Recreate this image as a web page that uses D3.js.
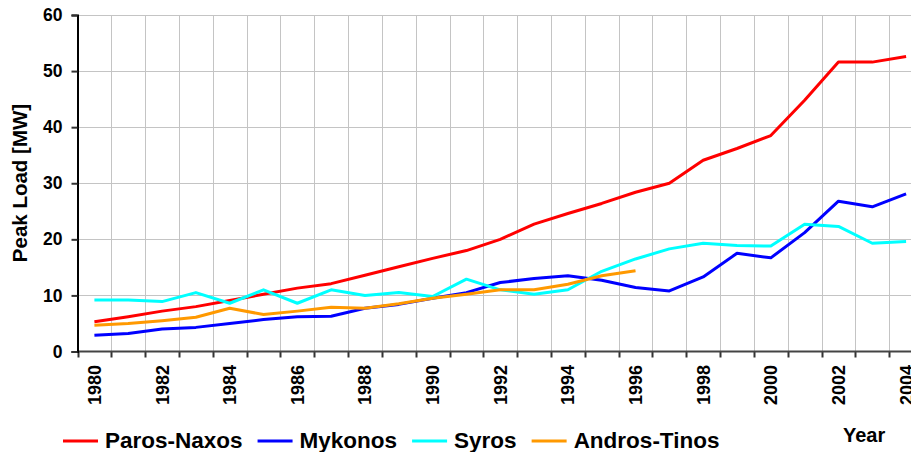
<!DOCTYPE html>
<meta charset="utf-8">
<style>
body { margin: 0; }
svg { font-family: Arial, "Liberation Sans", sans-serif; font-weight: bold; }
.grid line { stroke: #c4c4c4; stroke-width: 1; }
.line { fill: none; stroke-width: 3; stroke-linejoin: round; }
</style>
<svg width="911" height="452"></svg>
<script src="https://d3js.org/d3.v7.min.js"></script>
<script>

var years = d3.range(1980, 2005);
var yTicks = [0, 10, 20, 30, 40, 50, 60];

var parosNaxos = [5.3, 6.2, 7.2, 8.0, 9.1, 10.2, 11.3, 12.1, 13.6, 15.1, 16.6, 18.0, 20.0, 22.7, 24.6, 26.4,
                  28.4, 30.0, 34.1, 36.2, 38.5, 44.8, 51.6, 51.6, 52.6];
var mykonos = [2.9, 3.2, 4.0, 4.3, 5.0, 5.7, 6.2, 6.3, 7.7, 8.4, 9.5, 10.5, 12.3, 13.0, 13.5, 12.7,
               11.4, 10.8, 13.3, 17.5, 16.7, 21.2, 26.8, 25.8, 28.1];
var syros = [9.2, 9.2, 8.9, 10.5, 8.6, 11.0, 8.6, 11.0, 10.0, 10.5, 9.8, 12.9, 11.0, 10.2, 11.0, 14.3,
             16.5, 18.3, 19.3, 18.9, 18.8, 22.7, 22.3, 19.3, 19.6];
var androsTinos = [4.7, 5.0, 5.5, 6.1, 7.7, 6.6, 7.2, 7.9, 7.7, 8.5, 9.5, 10.2, 11.0, 11.0, 12.0, 13.5, 14.4];

var seriesNames = ["Paros-Naxos", "Mykonos", "Syros", "Andros-Tinos"];
var seriesColors = ["#ff0000", "#0000ff", "#00ffff", "#ff9900"];
var seriesValues = [parosNaxos, mykonos, syros, androsTinos];

var svg = d3.select("svg"),
    plotLeft = 77.5, plotTop = 15, plotBottom = 351.5,
    step = 33.82,
    plotRight = plotLeft + step * years.length;

var x = d3.scaleBand().domain(years).range([plotLeft, plotRight]).padding(0);
var y = d3.scaleLinear().domain([0, 60]).range([plotBottom, plotTop]);

// grid
var grid = svg.append("g").attr("class", "grid");
grid.selectAll(".h")
  .data(yTicks.slice(1))
  .enter().append("line")
    .attr("x1", plotLeft).attr("x2", 911)
    .attr("y1", function(d) { return Math.round(y(d)) + 0.5; })
    .attr("y2", function(d) { return Math.round(y(d)) + 0.5; });
grid.selectAll(".v")
  .data(years.slice(1))
  .enter().append("line")
    .attr("x1", function(d) { return Math.round(x(d)) + 0.5; })
    .attr("x2", function(d) { return Math.round(x(d)) + 0.5; })
    .attr("y1", plotTop).attr("y2", plotBottom);

// x axis
var xa = svg.append("g");
xa.selectAll(".tick")
  .data(years)
  .enter().append("line")
    .attr("x1", function(d) { return Math.round(x(d)) + 0.5; })
    .attr("x2", function(d) { return Math.round(x(d)) + 0.5; })
    .attr("y1", plotBottom).attr("y2", plotBottom + 6)
    .attr("stroke", "#333").attr("stroke-width", 2);
xa.append("line")
    .attr("x1", plotLeft).attr("x2", 911)
    .attr("y1", plotBottom).attr("y2", plotBottom)
    .attr("stroke", "#444").attr("stroke-width", 2);
xa.selectAll(".lab")
  .data(years.filter(function(d) { return d % 2 === 0; }))
  .enter().append("text")
    .attr("transform", function(d) { return "translate(" + (x(d) + x.bandwidth() / 2) + ",365) rotate(-90)"; })
    .attr("text-anchor", "end")
    .attr("dy", "0.36em")
    .style("font-size", "18px")
    .text(function(d) { return d; });

// y axis
var ya = svg.append("g")
    .attr("transform", "translate(" + plotLeft + ",0)")
    .call(d3.axisLeft(y).tickValues(yTicks).tickSize(6).tickPadding(9));
ya.select(".domain").attr("stroke", "#000").attr("stroke-width", 2);
ya.selectAll(".tick line").attr("stroke", "#333").attr("stroke-width", 2);
ya.selectAll(".tick text").style("font-size", "17.5px").attr("fill", "#000");
ya.selectAll("text").style("font-family", "Arial, 'Liberation Sans', sans-serif").style("font-weight", "bold");

svg.append("text")
    .attr("transform", "translate(27,183) rotate(-90)")
    .attr("text-anchor", "middle")
    .style("font-size", "20.5px")
    .text("Peak Load [MW]");

// lines
var line = d3.line()
    .x(function(d, i) { return x(years[i]) + x.bandwidth() / 2; })
    .y(function(d) { return y(d); });

svg.selectAll(".line")
  .data(seriesValues)
  .enter().append("path")
    .attr("class", "line")
    .attr("stroke", function(d, i) { return seriesColors[i]; })
    .attr("d", line);

// legend
var lx = 63;
seriesNames.forEach(function(name, i) {
  svg.append("line")
      .attr("x1", lx).attr("x2", lx + 35)
      .attr("y1", 441).attr("y2", 441)
      .attr("stroke", seriesColors[i]).attr("stroke-width", 3);
  var t = svg.append("text")
      .attr("x", lx + 42).attr("y", 448)
      .style("font-size", "22.5px")
      .text(name);
  lx += 42 + t.node().getComputedTextLength() + 15;
});

svg.append("text")
    .attr("x", 843).attr("y", 442)
    .style("font-size", "20px")
    .text("Year");

</script>
